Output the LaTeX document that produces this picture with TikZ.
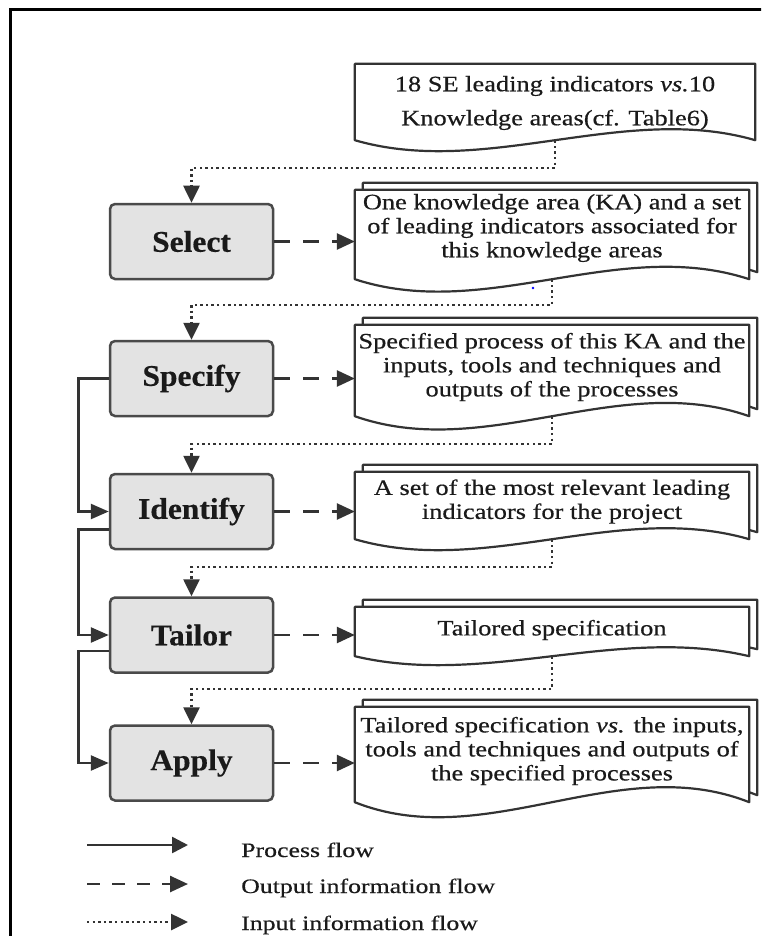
\documentclass[tikz,border=0pt]{standalone}
\usepackage{fontspec}
\setmainfont{Liberation Serif}
\newfontfamily\docfont{Liberation Serif}[FakeStretch=1.2,FakeBold=0.5]
\newfontfamily\legfont{Liberation Serif}[FakeStretch=1.26,FakeBold=0.5]
\newfontfamily\boxfont{Liberation Serif}[FakeStretch=1.05,FakeBold=0.4]
\usetikzlibrary{arrows.meta,calc}

\definecolor{linegray}{HTML}{333333}
\definecolor{boxfill}{HTML}{E3E3E3}
\definecolor{boxline}{HTML}{4A4A4A}
\definecolor{inkgray}{HTML}{1A1A1A}

\tikzset{
  procbox/.style={draw=boxline, line width=2.5pt, fill=boxfill, rounded corners=5pt,
    minimum width=163pt, minimum height=75pt, inner sep=0pt, text=inkgray,
    font=\boxfont\bfseries\fontsize{30}{32}\selectfont},
  docarea/.style={inner sep=0pt, minimum width=394pt},
  doctext/.style={align=center, inner sep=0pt, text=inkgray,
    font=\docfont\fontsize{22}{24}\selectfont},
  docline/.style={draw=linegray, line width=2.2pt, fill=white, line join=round},
  proc/.style={draw=linegray, line width=2.6pt, -{Triangle[length=18pt,width=15pt]}},
  outp/.style={draw=linegray, line width=2.6pt, dash pattern=on 16pt off 13pt,
    -{Triangle[length=18pt,width=16pt]}},
  inp/.style={draw=linegray, line width=2.6pt, dash pattern=on 2.4pt off 3.2pt,
    -{Triangle[length=17pt,width=16pt]}},
  legtext/.style={anchor=base west, inner sep=0pt, text=inkgray,
    font=\legfont\fontsize{20.5}{24}\selectfont},
}

% document symbol: flat top, wavy bottom edge
\newcommand\docoutline[2]{%
  \path[docline] (#1.north west) -- (#1.north east) -- (#1.south east)
    .. controls ($(#1.south east)+(-131,-#2)$) and ($(#1.south west)+(131,#2)$) .. (#1.south west)
    -- cycle;}

\begin{document}
\begin{tikzpicture}[x=1pt,y=-1pt]
\useasboundingbox (0,0) rectangle (761,936);
\clip (0,0) rectangle (761,936);

% frame
\draw[black, line width=3pt] (10,940) -- (10,10) -- (765,10);

% process boxes
\node[procbox] (sel)  at (191.5,241.5) {Select};
\node[procbox] (spec) at (191.5,378.5) {Specify};
\node[procbox] (iden) at (191.5,511.5) {Identify};
\node[procbox] (tail) at (191.5,635)   {Tailor};
\node[procbox] (appl) at (191.5,763)   {Apply};

% document areas (front sheets and the sheets stacked behind)
\node[docarea, minimum width=400pt, minimum height=76pt] (d1) at (555,102) {};
\node[docarea, minimum height=89pt] (d2) at (552,234.5) {};
\node[docarea, minimum height=91pt] (d3) at (552,370.5) {};
\node[docarea, minimum height=67pt] (d4) at (552,505.5) {};
\node[docarea, minimum height=49pt] (d5) at (552,631.5) {};
\node[docarea, minimum height=95pt] (d6) at (552,754.5) {};
\node[docarea, minimum height=89pt] (d2b) at ($(d2)+(8,-7)$) {};
\node[docarea, minimum height=91pt] (d3b) at ($(d3)+(8,-7)$) {};
\node[docarea, minimum height=67pt] (d4b) at ($(d4)+(8,-7)$) {};
\node[docarea, minimum height=49pt] (d5b) at ($(d5)+(8,-7)$) {};
\node[docarea, minimum height=95pt] (d6b) at ($(d6)+(8,-7)$) {};

\docoutline{d1}{38}
\docoutline{d2b}{43}\docoutline{d2}{43}
\docoutline{d3b}{46}\docoutline{d3}{46}
\docoutline{d4b}{38}\docoutline{d4}{38}
\docoutline{d5b}{31}\docoutline{d5}{31}
\docoutline{d6b}{52}\docoutline{d6}{52}

% document texts
\node[doctext, font=\docfont\fontsize{22}{34}\selectfont] (t1) at (555,103)
  {18 SE leading indicators \textit{vs.}10\\Knowledge areas(cf. Table6)};
\node[doctext] (t2) at (552,228)
  {One knowledge area (KA) and a set\\of leading indicators associated for\\this knowledge areas};
\node[doctext] (t3) at (552,367)
  {Specified process of this KA and the\\inputs, tools and techniques and\\outputs of the processes};
\node[doctext] (t4) at (552,501.5)
  {A set of the most relevant leading\\indicators for the project};
\node[doctext] (t5) at (552,630) {Tailored specification};
\node[doctext] (t6) at (552,751)
  {Tailored specification \textit{vs.} the inputs,\\tools and techniques and outputs of\\the specified processes};

\fill[blue] (533,288) circle (1.3);

% input information flow
\draw[inp] (d1.south) -- (d1.south |- 0,168) -| (sel.north);
\draw[inp] (d2.south) -- (d2.south |- 0,305) -| (spec.north);
\draw[inp] (d3.south) -- (d3.south |- 0,444) -| (iden.north);
\draw[inp] (d4.south) -- (d4.south |- 0,567) -| (tail.north);
\draw[inp] (d5.south) -- (d5.south |- 0,689) -| (appl.north);

% output information flow
\draw[outp] (sel.east)  -- (sel.east -| d2.west);
\draw[outp] (spec.east) -- (spec.east -| d3.west);
\draw[outp] (iden.east) -- (iden.east -| d4.west);
\draw[outp] (tail.east) -- (tail.east -| d5.west);
\draw[outp] (appl.east) -- (appl.east -| d6.west);

% process flow
\draw[proc] (spec.west) -- ++(-30,0) |- (iden.west);
\draw[proc] ($(iden.west)+(0,18)$) -- ++(-30,0) |- (tail.west);
\draw[proc] ($(tail.west)+(0,16)$) -- ++(-30,0) |- (appl.west);

% legend
\coordinate (l1a) at (87,845);  \coordinate (l1b) at (188,845);
\coordinate (l2a) at (87,884);  \coordinate (l2b) at (188,884);
\coordinate (l3a) at (87,922);  \coordinate (l3b) at (188,922);
\draw[proc, -{Triangle[length=16pt,width=16pt]}] (l1a) -- (l1b);
\draw[outp, dash pattern=on 13pt off 12pt] (l2a) -- (l2b);
\draw[inp] (l3a) -- (l3b);
\node[legtext] (g1) at (241,857) {Process flow};
\node[legtext] (g2) at (241,893) {Output information flow};
\node[legtext] (g3) at (241,930) {Input information flow};
\end{tikzpicture}
\end{document}
